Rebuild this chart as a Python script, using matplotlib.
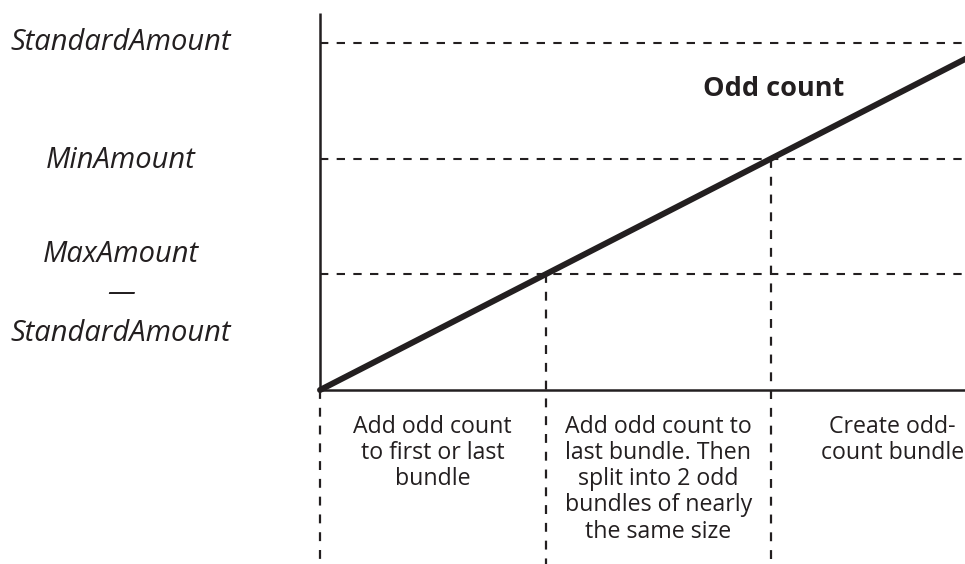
import matplotlib.pyplot as plt

# levels on the y axis (bottom to top) and their labels
levels = [1, 2, 3]
level_labels = ["MaxAmount\n\u2014\nStandardAmount", "MinAmount", "StandardAmount"]
label_y = [0.83, 1.98, 3.0]

# where the count line crosses each level
cross_x = [0, 1, 2]
line_x = [0, 3.2]
line_y = [0, 3.2]

regions = [
    "Add odd count\nto first or last\nbundle",
    "Add odd count to\nlast bundle. Then\nsplit into 2 odd\nbundles of nearly\nthe same size",
    "Create odd-\ncount bundle",
]
region_x = [0.5, 1.5, 2.537]

plt.rcParams['font.family'] = ['Open Sans', 'DejaVu Sans']

fig = plt.figure(figsize=(9.65, 5.64), dpi=100)
ax = fig.add_axes([0, 0, 1, 1])
ax.set_xlim(-1.419, 2.860)
ax.set_ylim(-1.504, 3.371)
ax.axis('off')

dash = (0, (4, 4))
c = "#231f20"

# axes
ax.plot([0, 0], [0, 3.258], c=c, lw=1.8, solid_capstyle='butt')
ax.plot([0, 3.2], [0, 0], c=c, lw=1.8, solid_capstyle='butt')

# dashed level lines
for lv in levels:
    ax.plot([0, 3.2], [lv, lv], c=c, lw=1.5, ls=dash)

# dashed verticals from each crossing down to the bottom
for cx in cross_x:
    ax.plot([cx, cx], [cx, -1.6], c=c, lw=1.6, ls=dash)

# the count line
ax.plot(line_x, line_y, c=c, lw=4.3, solid_capstyle='round')

for lab, y in zip(level_labels, label_y):
    ax.text(-0.882, y, lab, ha='center', va='center', fontsize=21,
            style='italic', color=c, linespacing=1.47)

ax.text(2.01, 2.60, "Odd count", ha='center', va='center', fontsize=19.5,
        fontweight='bold', color=c)

for txt, x in zip(regions, region_x):
    ax.text(x, -0.215, txt, ha='center', va='top', fontsize=16.7,
            color=c, linespacing=1.12)

plt.savefig("out.png", dpi=100)
